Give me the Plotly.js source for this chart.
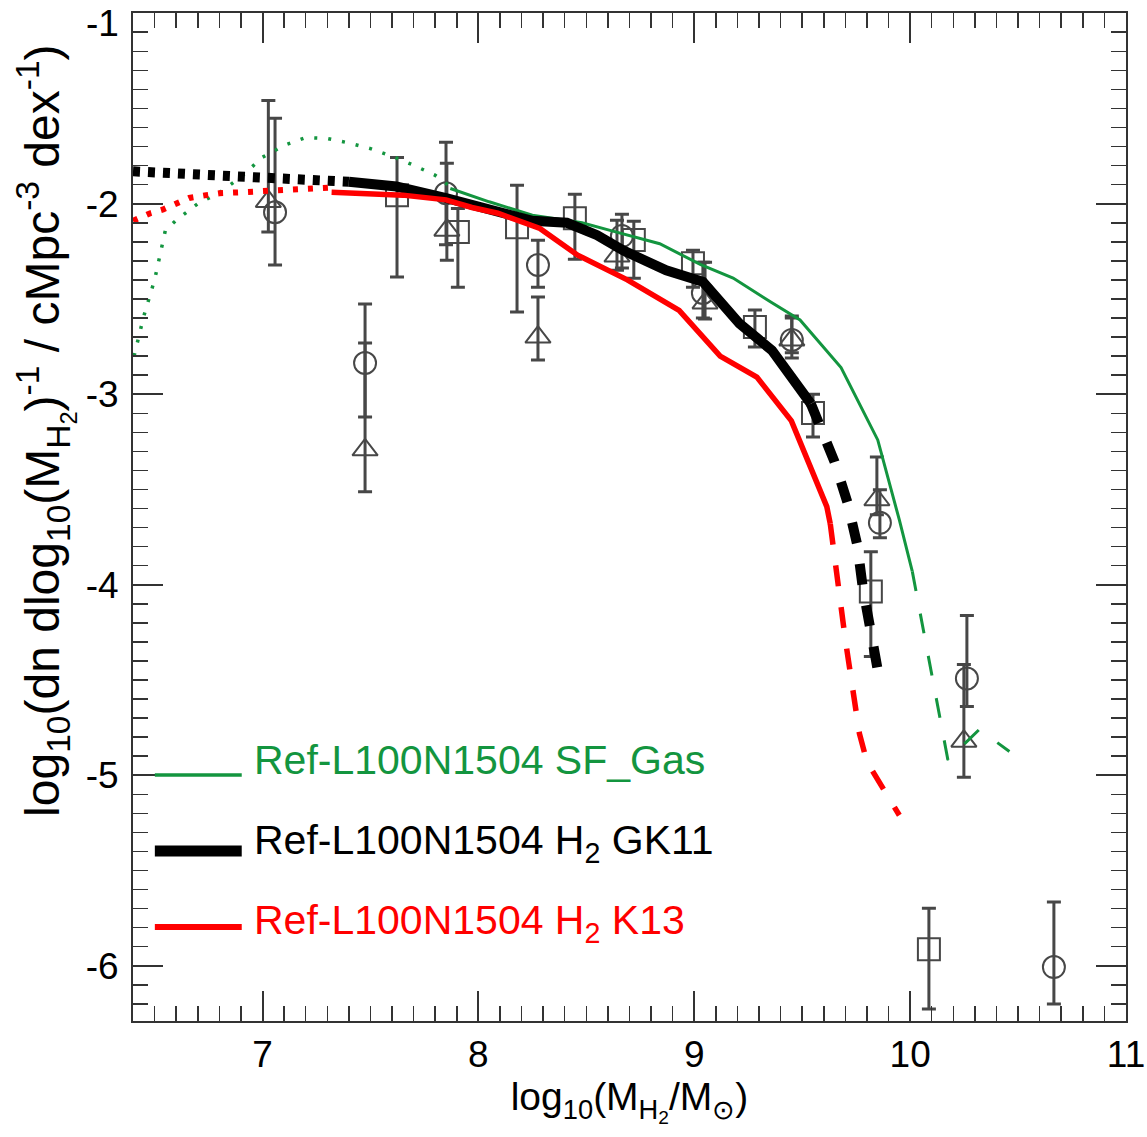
<!DOCTYPE html>
<html>
<head>
<meta charset="utf-8">
<script src="https://cdn.plot.ly/plotly-3.0.1.min.js"></script>
<style>html,body{margin:0;padding:0;background:#fff;}#chart{width:1147px;height:1137px;}</style>
</head>
<body>
<div id="chart"></div>
<script>
// ---- Data ----
// Ref-L100N1504 SF_Gas (green)
const greenDotX = [6.405, 6.45, 6.5, 6.55, 6.6, 6.7, 6.8, 6.9, 7.0, 7.1, 7.2, 7.3, 7.4, 7.5, 7.6, 7.7, 7.8, 7.87];
const greenDotY = [-2.80, -2.59, -2.40, -2.14, -2.087, -2.00, -1.943, -1.86, -1.756, -1.694, -1.653, -1.658, -1.681, -1.711, -1.751, -1.798, -1.851, -1.91];
const greenSolidX = [7.87, 8.05, 8.25, 8.48, 8.61, 8.84, 9.03, 9.18, 9.36, 9.49, 9.68, 9.85, 9.95, 10.01];
const greenSolidY = [-1.92, -1.99, -2.06, -2.10, -2.14, -2.21, -2.32, -2.39, -2.52, -2.61, -2.86, -3.24, -3.66, -3.93];
const greenDashX = [10.01, 10.175, 10.32, 10.46];
const greenDashY = [-3.93, -4.92, -4.76, -4.875];

// Ref-L100N1504 H2 GK11 (black)
const blackDotX = [6.4, 6.7, 7.0, 7.2, 7.4];
const blackDotY = [-1.83, -1.845, -1.855, -1.865, -1.885];
const blackSolidX = [7.40, 7.62, 7.85, 8.09, 8.25, 8.41, 8.55, 8.67, 8.87, 9.04, 9.21, 9.36, 9.54];
const blackSolidY = [-1.885, -1.91, -1.97, -2.04, -2.09, -2.10, -2.165, -2.245, -2.35, -2.41, -2.63, -2.77, -3.05];
const blackDashX = [9.54, 9.65, 9.71, 9.755, 9.78, 9.82, 9.86];
const blackDashY = [-3.05, -3.355, -3.57, -3.79, -4.01, -4.24, -4.51];

// Ref-L100N1504 H2 K13 (red)
const redDotX = [6.4, 6.48, 6.54, 6.6, 6.66, 6.74, 6.8, 6.9, 7.03, 7.16, 7.32];
const redDotY = [-2.09, -2.05, -2.03, -2.0, -1.97, -1.955, -1.945, -1.94, -1.93, -1.92, -1.915];
const redSolidX = [7.32, 7.65, 7.85, 7.97, 8.09, 8.285, 8.46, 8.69, 8.93, 9.12, 9.29, 9.45, 9.614, 9.63];
const redSolidY = [-1.94, -1.955, -1.98, -2.02, -2.05, -2.13, -2.27, -2.40, -2.56, -2.80, -2.91, -3.14, -3.59, -3.68];
const redDashX = [9.63, 9.70, 9.765, 9.80, 9.95];
const redDashY = [-3.68, -4.29, -4.78, -4.93, -5.21];

// Observational points (open circles)
const circX = [7.058, 7.475, 7.85, 8.276, 8.665, 9.04, 9.452, 9.86, 10.263, 10.666];
const circY = [-2.045, -2.836, -1.945, -2.322, -2.17, -2.469, -2.715, -3.675, -4.492, -6.007];
const circHi = [0.493, 0.309, 0.267, 0.13, 0.115, 0.162, 0.115, 0.173, 0.33, 0.341];
const circLo = [0.277, 0.283, 0.27, 0.116, 0.168, 0.131, 0.095, 0.078, 0.147, 0.194];

// Observational points (open triangles)
const triX = [7.027, 7.475, 7.854, 8.276, 8.642, 9.05, 9.452, 9.846, 10.249];
const triY = [-1.988, -3.292, -2.139, -2.70, -2.275, -2.521, -2.715, -3.554, -4.821];
const triHi = [0.53, 0.561, 0.351, 0.21, 0.188, 0.214, 0.125, 0.225, 0.402];
const triLo = [0.161, 0.22, 0.158, 0.121, 0.074, 0.084, 0.068, 0.079, 0.19];

// Observational points (open squares)
const sqX = [7.623, 7.905, 8.179, 8.447, 8.72, 8.994, 9.281, 9.55, 9.818, 10.087];
const sqY = [-1.956, -2.149, -2.123, -2.076, -2.191, -2.312, -2.647, -3.098, -4.036, -5.913];
const sqHi = [0.199, 0.124, 0.22, 0.126, 0.099, 0.068, 0.089, 0.098, 0.209, 0.215];
const sqLo = [0.429, 0.289, 0.446, 0.215, 0.2, 0.126, 0.105, 0.126, 0.341, 0.314];

// Ticks
const xTickVals = [7, 8, 9, 10, 11];
const xTickText = ['7', '8', '9', '10', '11'];
const yTickVals = [-1, -2, -3, -4, -5, -6];
const yTickText = ['-1', '-2', '-3', '-4', '-5', '-6'];

// Legend entries
const legendNames = ['Ref-L100N1504 SF_Gas', 'Ref-L100N1504 H<sub>2</sub> GK11', 'Ref-L100N1504 H<sub>2</sub> K13'];

// ---- Styling ----
const GREEN = '#13953F';
const RED = '#FF0000';
const BLACK = '#000000';
const GREY = '#474747';
const FONT = 'Liberation Sans, Arial, sans-serif';

function pts(x, y, hi, lo, symbol) {
  return {
    x: x, y: y, type: 'scatter', mode: 'markers',
    marker: {symbol: symbol, size: 22, color: GREY, line: {width: 2, color: GREY}},
    error_y: {type: 'data', symmetric: false, array: hi, arrayminus: lo, color: GREY, thickness: 3, width: 7},
    hoverinfo: 'skip'
  };
}
function line(x, y, color, width, dash) {
  return {x: x, y: y, type: 'scatter', mode: 'lines', line: {color: color, width: width, dash: dash}, hoverinfo: 'skip'};
}

const traces = [
  pts(circX, circY, circHi, circLo, 'circle-open'),
  pts(triX, triY, triHi, triLo, 'triangle-up-open'),
  pts(sqX, sqY, sqHi, sqLo, 'square-open'),
  line(greenDotX, greenDotY, GREEN, 3.5, '3px,11px'),
  line(greenSolidX, greenSolidY, GREEN, 3, 'solid'),
  line(greenDashX, greenDashY, GREEN, 3, '20px,23px'),
  line(blackDotX, blackDotY, BLACK, 10, '7px,8px'),
  line(blackSolidX, blackSolidY, BLACK, 10, 'solid'),
  line(blackDashX, blackDashY, BLACK, 10, '21px,21px'),
  line(redDotX, redDotY, RED, 6, '5px,10px'),
  line(redSolidX, redSolidY, RED, 5.5, 'solid'),
  line(redDashX, redDashY, RED, 5.5, '21px,21px')
];

// Legend built from the entries (swatch + label)
const legendColors = [GREEN, BLACK, RED];
const legendWidths = [3.5, 11, 6];
const legendLineY = [0.244, 0.1686, 0.0932];
const legendTextY = [0.234, 0.1485, 0.0690];
const shapes = [];
const annotations = [];
for (let i = 0; i < legendNames.length; i++) {
  shapes.push({type: 'line', xref: 'paper', yref: 'paper', x0: 0.022, x1: 0.1095,
    y0: legendLineY[i], y1: legendLineY[i], line: {color: legendColors[i], width: legendWidths[i]}});
  annotations.push({xref: 'paper', yref: 'paper', x: 0.120, y: legendTextY[i], xanchor: 'left', yanchor: 'bottom',
    text: legendNames[i], showarrow: false, font: {family: FONT, size: 41, color: legendColors[i]}});
}
// Top y tick label sits at the figure edge; draw it at its tick value, nudged down so it is not clipped
annotations.push({xref: 'paper', yref: 'y', x: -0.012, y: yTickVals[0], yshift: -10, xanchor: 'right', yanchor: 'middle',
  text: yTickText[0], showarrow: false, font: {family: FONT, size: 37, color: '#000'}});
annotations.push({xref: 'paper', yref: 'paper', x: -0.088, y: 0.586, xanchor: 'center', yanchor: 'middle', textangle: -90,
  text: 'log<sub>10</sub>(dn dlog<sub>10</sub>(M<sub>H<sub>2</sub></sub>)<sup>-1</sup> / cMpc<sup>-3</sup> dex<sup>-1</sup>)',
  showarrow: false, font: {family: FONT, size: 48, color: '#000'}});

const axisCommon = {
  ticks: 'inside', ticklen: 30, tickwidth: 2, tickcolor: '#333',
  showline: true, linecolor: '#333', linewidth: 2, mirror: 'allticks',
  showgrid: false, zeroline: false,
  tickfont: {family: FONT, size: 37, color: '#000'},
  minor: {tickmode: 'linear', tick0: 0, dtick: 0.1, ticks: 'inside', ticklen: 15, tickwidth: 1.5, tickcolor: '#333', showgrid: false}
};

const layout = {
  width: 1147, height: 1137,
  margin: {l: 133, r: 21, t: 13, b: 116},
  paper_bgcolor: '#fff', plot_bgcolor: '#fff',
  showlegend: false,
  xaxis: Object.assign({}, axisCommon, {
    range: [6.4, 11], tickmode: 'array', tickvals: xTickVals, ticktext: xTickText,
    ticklabeloverflow: 'allow',
    title: {text: 'log<sub>10</sub>(M<sub>H<sub>2</sub></sub>/M<sub>⊙</sub>)', font: {family: FONT, size: 39, color: '#000'}, standoff: 4}
  }),
  yaxis: Object.assign({}, axisCommon, {
    range: [-6.29, -0.999], tickmode: 'array', tickvals: yTickVals, ticktext: [''].concat(yTickText.slice(1)),
    ticklabelstandoff: 5
  }),
  shapes: shapes,
  annotations: annotations
};

Plotly.newPlot('chart', traces, layout, {staticPlot: true, displayModeBar: false});
</script>
</body>
</html>
